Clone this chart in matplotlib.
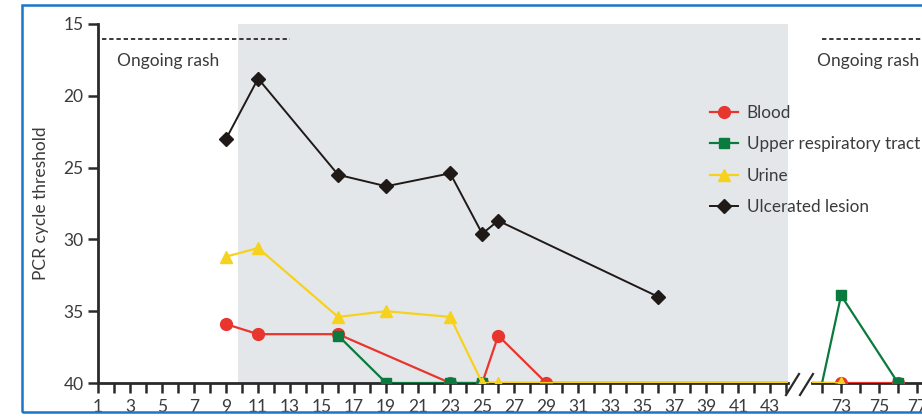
import matplotlib
matplotlib.use("Agg")
import matplotlib.pyplot as plt
from matplotlib.lines import Line2D
from matplotlib.patches import Rectangle

plt.rcParams['font.family'] = ['Lato', 'DejaVu Sans']

# ---- data: days since onset and PCR cycle threshold (Ct) per specimen ----
blood_days = [9, 11, 16, 23, 25, 26, 29, 73, 76]
blood_ct = [35.9, 36.6, 36.6, 40, 40, 36.7, 40, 40, 40]

urt_days = [16, 19, 23, 25, 72, 73, 76]
urt_ct = [36.7, 40, 40, 40, 40, 33.9, 40]
urt_marked = [0, 1, 2, 3, 5, 6]

urine_days = [9, 11, 16, 19, 23, 25, 26, 73]
urine_ct = [31.2, 30.6, 35.4, 35.0, 35.4, 40, 40, 40]

lesion_days = [9, 11, 16, 19, 23, 25, 26, 36]
lesion_ct = [23.0, 18.8, 25.5, 26.3, 25.4, 29.6, 28.7, 34.0]

series_labels = ["Blood", "Upper respiratory tract", "Urine", "Ulcerated lesion"]

rash_left = (1.25, 13.0)
rash_right = (72.0, 80.0)
rash_level = 16.05
shaded_days = (9.75, 44.2)

y_ticks = [15, 20, 25, 30, 35, 40]

# ---- styling ----
RED = "#e8352e"
GREEN = "#0b7a3e"
YELLOW = "#f6d21e"
BLACK = "#1f1a17"
AXCOL = "#2a2a2a"
TXT = "#3b3b3b"
SHADE = "#e4e7ea"
FRAME = "#1b75c9"
FS = 12.5
LFS = 12.3

W, H = 922, 418
fig = plt.figure(figsize=(W / 100, H / 100), dpi=100)


def fx(px):
    return px / W


def fy(py):
    return (H - py) / H


ax_l = fig.add_axes([fx(98), fy(383), fx(788) - fx(98), fy(24) - fy(383)])
ax_r = fig.add_axes([fx(812), fy(383), fx(960) - fx(812), fy(24) - fy(383)])

ax_l.set_xlim(1, 44.1)
ax_r.set_xlim(71.47, 79.26)
for ax in (ax_l, ax_r):
    ax.set_ylim(40, 15)
    ax.patch.set_alpha(0)
    for s in ("top", "right"):
        ax.spines[s].set_visible(False)
    ax.spines["bottom"].set_color(AXCOL)
    ax.spines["bottom"].set_linewidth(2.0)
    ax.tick_params(axis="x", direction="out", length=7.5, width=1.8,
                   color=AXCOL, labelsize=FS, labelcolor=TXT, pad=4)

ax_r.spines["left"].set_visible(False)
ax_r.tick_params(axis="y", left=False, labelleft=False)

ax_l.spines["left"].set_color(AXCOL)
ax_l.spines["left"].set_linewidth(2.0)
ax_l.set_yticks(y_ticks)
ax_l.tick_params(axis="y", direction="out", length=7.5, width=1.8,
                 color=AXCOL, labelsize=FS, labelcolor=TXT, pad=3)
ax_l.set_ylabel("PCR cycle threshold", fontsize=FS, color=TXT, labelpad=10)

ax_l.set_xticks(range(1, 45))
ax_l.set_xticklabels([str(d) if d % 2 else "" for d in range(1, 45)])
ax_r.set_xticks(range(72, 80))
ax_r.set_xticklabels([str(d) if d % 2 else "" for d in range(72, 80)])

# shaded interval
ax_l.axvspan(*shaded_days, color=SHADE, zorder=0, lw=0)

# ongoing rash markers
ax_l.plot(rash_left, [rash_level] * 2, ls=(0, (2.4, 1.6)), color=AXCOL, lw=1.3, clip_on=False)
ax_r.plot(rash_right, [rash_level] * 2, ls=(0, (2.4, 1.6)), color=AXCOL, lw=1.3, clip_on=True)
ax_l.text(5.4, 17.6, "Ongoing rash", fontsize=FS, color=TXT, ha="center", va="center")
ax_r.text(74.4, 17.6, "Ongoing rash", fontsize=FS, color=TXT, ha="center", va="center")

# series
for ax in (ax_l, ax_r):
    ax.plot(lesion_days, lesion_ct, color=BLACK, lw=1.4, marker="D", ms=7,
            mfc=BLACK, mec=BLACK, zorder=3, clip_on=True)
    ax.plot(blood_days, blood_ct, color=RED, lw=1.6, marker="o", ms=8.5,
            mfc=RED, mec=RED, zorder=4, clip_on=True)
    ax.plot(urt_days, urt_ct, color=GREEN, lw=1.6, marker="s", ms=7.5,
            mfc=GREEN, mec=GREEN, markevery=urt_marked, zorder=5, clip_on=True)
    ax.plot(urine_days, urine_ct, color=YELLOW, lw=1.6, marker="^", ms=8,
            mfc=YELLOW, mec=YELLOW, zorder=6, clip_on=True)

# legend
handles = [
    Line2D([], [], color=RED, lw=1.6, marker="o", ms=8.5),
    Line2D([], [], color=GREEN, lw=1.6, marker="s", ms=7.5),
    Line2D([], [], color=YELLOW, lw=1.6, marker="^", ms=8),
    Line2D([], [], color=BLACK, lw=1.4, marker="D", ms=7),
]
leg = fig.legend(handles, series_labels, loc="upper left",
                 bbox_to_anchor=(fx(710), fy(105)), frameon=False,
                 fontsize=LFS, handlelength=1.65, handletextpad=0.5,
                 labelspacing=0.9, borderpad=0, borderaxespad=0)
for t in leg.get_texts():
    t.set_color(TXT)

# axis break marks
for x0 in (786, 800):
    fig.add_artist(Line2D([fx(x0), fx(x0 + 13)], [fy(395), fy(374)],
                          color=AXCOL, lw=1.6))

# outer frame
fig.add_artist(Rectangle((fx(22), fy(412)), fx(960) - fx(22), fy(5) - fy(412),
                         fill=False, edgecolor=FRAME, lw=1.8, clip_on=False))

fig.savefig("out.png", dpi=100)
